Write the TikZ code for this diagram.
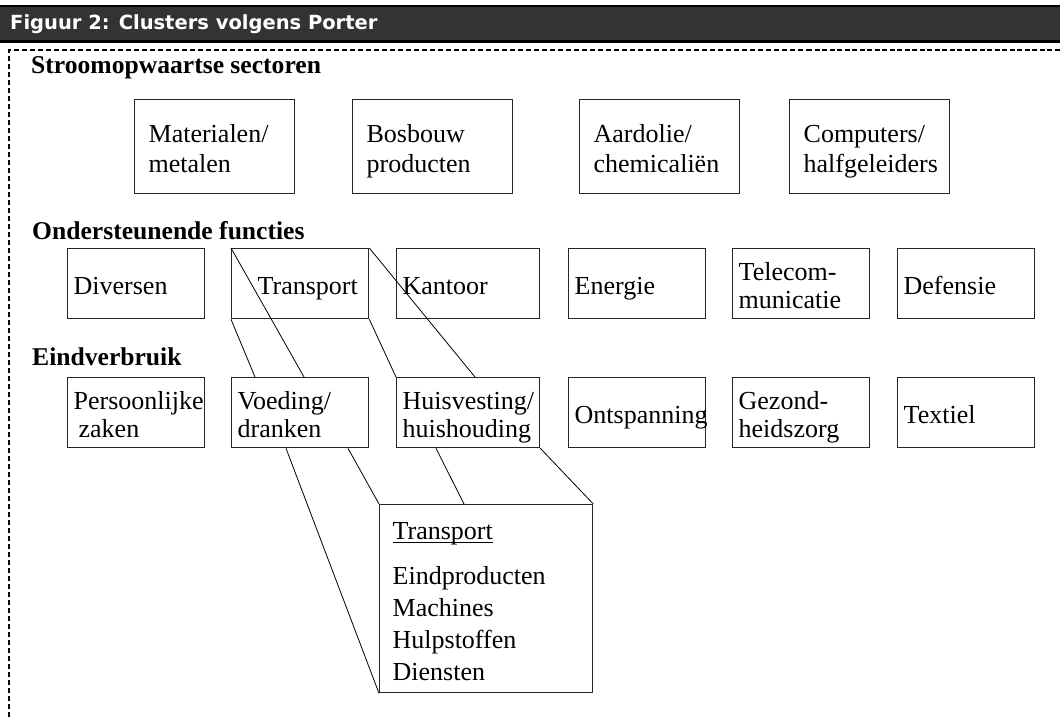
\documentclass[tikz,border=0pt]{standalone}
\usepackage{fontspec}
\setmainfont{Liberation Serif}
\newfontfamily\barfont{DejaVu Sans}
\usepackage{tikz}
\usetikzlibrary{positioning}
\definecolor{BarGrey}{RGB}{51,51,51}
\newcommand\boxtext{\fontsize{26}{30}\selectfont}
\newcommand\headtext{\fontsize{25.6}{30}\selectfont\bfseries}
% fixed top and bottom of the text, so all boxes place it alike
\newcommand\topstrut{\rule{0pt}{29pt}}
\newcommand\botstrut{\rule[-7pt]{0pt}{7pt}}
% word underline close to the baseline
\newcommand\wordline[1]{\setbox0\hbox{#1}\rlap{\rule[-3.5pt]{\wd0}{1.1pt}}#1}
\hyphenpenalty=10000

\begin{document}
\begin{tikzpicture}[x=1pt, y=-1pt,
    sector/.style={rectangle, draw=black!85, line width=1.3pt, anchor=north west,
                   minimum height=94pt, text width=132pt, inner xsep=14pt,
                   inner ysep=0pt, align=left, font=\boxtext,
                   execute at begin node=\topstrut, execute at end node=\botstrut},
    func/.style={rectangle, draw=black!85, line width=1.3pt, anchor=north west,
                 minimum height=70pt, text width=125pt, inner xsep=6pt,
                 inner ysep=0pt, align=left, font=\fontsize{26}{28}\selectfont,
                 execute at begin node=\topstrut, execute at end node=\botstrut},
    group/.style={anchor=base west, inner sep=0pt, font=\headtext},
    link/.style={line width=0.8pt, black}
  ]
  \useasboundingbox (0,0) rectangle (1060,717);

  % title bar
  \fill[black] (0,5.5) rectangle (1060,43);
  \fill[BarGrey] (0,7) rectangle (1060,40.5);
  \node[anchor=base west, inner sep=0pt, text=white,
        font=\barfont\bfseries\fontsize{19.5}{22}\selectfont] (title) at (10,30)
        {Figuur 2: Clusters volgens Porter};

  % dashed frame
  \draw[line width=1.3pt, dash pattern=on 5pt off 3pt] (9,717) -- (9,50) -- (807,50);
  \draw[line width=2pt, dash pattern=on 5pt off 2.5pt] (807,50) -- (1060,50);

  % stroomopwaarts
  \node[group] (hup) at (31,74) {Stroomopwaartse sectoren};
  \node[sector] (mat) at (134,99) {Materialen/\\metalen};
  \node[sector] (bos) at (352,99) {Bosbouw\\producten};
  \node[sector] (aar) at (579,99) {Aardolie/\\chemicaliën};
  \node[sector] (com) at (789,99) {Computers/\\halfgeleiders};

  % ondersteunend
  \node[group] (hsup) at (32,239) {Ondersteunende functies};
  \node[func] (div) at (67,248) {Diversen};
  \node[func] (tra) at (231,248) {\hspace*{20pt}Transport};
  \node[func, text width=131pt] (kan) at (396,248) {Kantoor};
  \node[func] (ene) at (568,248) {Energie};
  \node[func] (tel) at (732,248) {Telecom-\\municatie};
  \node[func] (def) at (897,248) {Defensie};

  % eindverbruik
  \node[group] (hend) at (32,365) {Eindverbruik};
  \node[func] (per) at (67,377) {Persoonlijke\\\hspace*{5pt}zaken};
  \node[func] (voe) at (231,377) {Voeding/\\dranken};
  \node[func, text width=131pt] (hui) at (396,377) {Huisvesting/\\huishouding};
  \node[func] (ont) at (568,377) {Ontspanning};
  \node[func] (gez) at (732,377) {Gezond-\\heidszorg};
  \node[func] (tex) at (897,377) {Textiel};

  % detail Transport
  \node[func, minimum height=188pt, text width=187pt, inner xsep=13pt,
        font=\fontsize{26}{31.7}\selectfont] (trd) at (379,504)
        {\wordline{Transport}\\[14pt]Eindproducten\\Machines\\Hulpstoffen\\Diensten};

  \draw[link] (tra.north west) -- ([xshift=73pt]voe.north west);
  \draw[link] (tra.south west) -- ([xshift=24pt]voe.north west);
  \draw[link] (tra.north east) -- ([xshift=79pt]hui.north west);
  \draw[link] (tra.south east) -- (hui.north west);
  \draw[link] ([xshift=55pt]voe.south west) -- (trd.south west);
  \draw[link] ([xshift=117pt]voe.south west) -- (trd.north west);
  \draw[link] ([xshift=40pt]hui.south west) -- ([xshift=85pt]trd.north west);
  \draw[link] (hui.south east) -- (trd.north east);
\end{tikzpicture}
\end{document}
